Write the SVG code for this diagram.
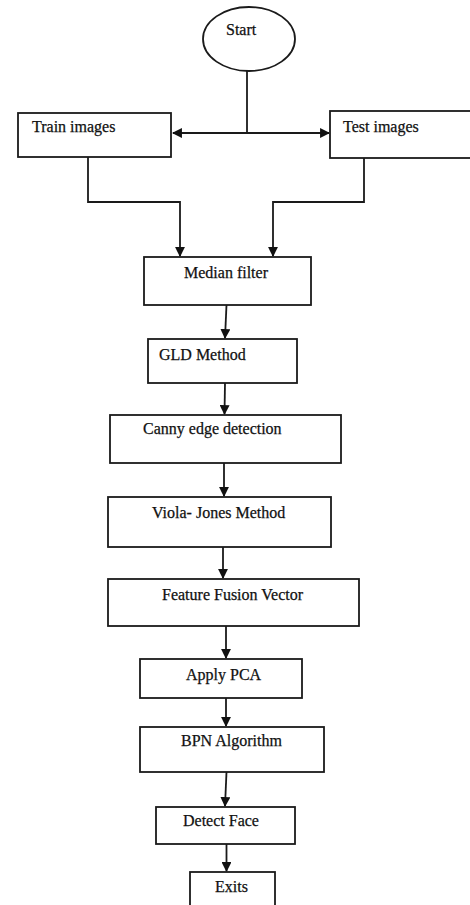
<svg xmlns="http://www.w3.org/2000/svg" width="470" height="905" viewBox="0 0 470 905">
<style>
.box{fill:#fff;stroke:#1a1a1a;stroke-width:1.8}
.lbl{font-family:"Liberation Serif","Times New Roman",serif;font-size:16px;fill:#111;stroke:#111;stroke-width:0.25}
.c{text-anchor:middle}
.conn{fill:none;stroke:#1a1a1a;stroke-width:1.8}
</style>
<defs>
<marker id="arr" viewBox="0 0 10 10" refX="9" refY="5" markerWidth="5.5" markerHeight="5.5" orient="auto" markerUnits="strokeWidth">
<path d="M0,0 L10,5 L0,10 Z" fill="#111"/>
</marker>
</defs>
<rect width="470" height="905" fill="#fff"/>
<g id="connectors">
<line class="conn" x1="247" y1="71" x2="247" y2="133"/>
<line class="conn" x1="247" y1="133" x2="173" y2="133" marker-end="url(#arr)"/>
<line class="conn" x1="247" y1="133" x2="329" y2="133" marker-end="url(#arr)"/>
<polyline class="conn" points="88,157 88,202 180,202 180,256" marker-end="url(#arr)"/>
<polyline class="conn" points="364,158 364,202 273,202 273,256" marker-end="url(#arr)"/>
<line class="conn" x1="226.5" y1="305" x2="225" y2="338" marker-end="url(#arr)"/>
<line class="conn" x1="225" y1="383" x2="224.5" y2="414" marker-end="url(#arr)"/>
<line class="conn" x1="224" y1="463" x2="224" y2="496" marker-end="url(#arr)"/>
<line class="conn" x1="223" y1="547" x2="223" y2="578" marker-end="url(#arr)"/>
<line class="conn" x1="226" y1="626" x2="226" y2="658" marker-end="url(#arr)"/>
<line class="conn" x1="226" y1="698" x2="226" y2="726" marker-end="url(#arr)"/>
<line class="conn" x1="226.5" y1="772" x2="225" y2="806" marker-end="url(#arr)"/>
<line class="conn" x1="226.5" y1="844" x2="226.5" y2="871" marker-end="url(#arr)"/>
</g>
<g id="start">
<ellipse class="box" cx="249" cy="39" rx="46" ry="32"/>
<text class="lbl" x="226" y="35">Start</text>
</g>
<g id="train">
<rect class="box" x="18" y="113" width="153" height="44"/>
<text class="lbl" x="32" y="132">Train images</text>
</g>
<g id="test">
<rect class="box" x="330" y="111" width="150" height="47"/>
<text class="lbl" x="343" y="132">Test images</text>
</g>
<g id="median">
<rect class="box" x="144" y="257" width="167" height="48"/>
<text class="lbl c" x="226" y="278">Median filter</text>
</g>
<g id="gld">
<rect class="box" x="148" y="339" width="149" height="44"/>
<text class="lbl" x="159" y="360">GLD Method</text>
</g>
<g id="canny">
<rect class="box" x="110" y="415" width="231" height="48"/>
<text class="lbl" x="143" y="434">Canny edge detection</text>
</g>
<g id="viola">
<rect class="box" x="108" y="497" width="223" height="50"/>
<text class="lbl" x="152" y="518">Viola- Jones Method</text>
</g>
<g id="fusion">
<rect class="box" x="108" y="579" width="251" height="47"/>
<text class="lbl" x="162" y="600">Feature Fusion Vector</text>
</g>
<g id="pca">
<rect class="box" x="140" y="659" width="162" height="39"/>
<text class="lbl" x="186" y="680">Apply PCA</text>
</g>
<g id="bpn">
<rect class="box" x="140" y="727" width="184" height="45"/>
<text class="lbl" x="181" y="746">BPN Algorithm</text>
</g>
<g id="detect">
<rect class="box" x="156" y="807" width="139" height="37"/>
<text class="lbl" x="183" y="826">Detect Face</text>
</g>
<g id="exits">
<rect class="box" x="190" y="872" width="85" height="45"/>
<text class="lbl" x="215" y="892">Exits</text>
</g>
</svg>
